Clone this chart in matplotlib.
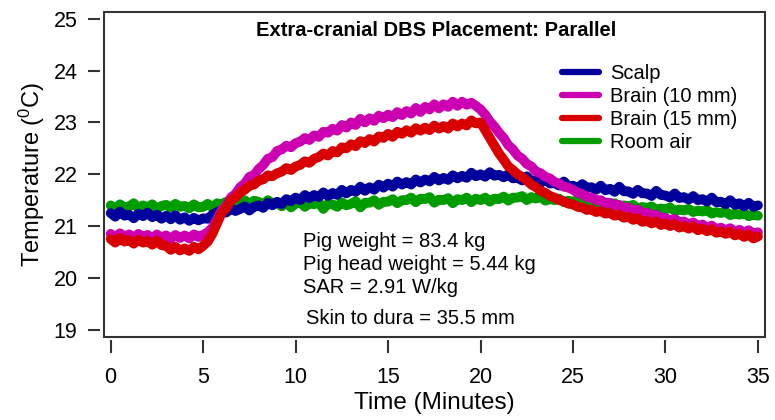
import numpy as np
import matplotlib
matplotlib.use('Agg')
from matplotlib import pyplot as plt
from matplotlib.patches import Rectangle

plt.rcParams['font.family'] = ['Liberation Sans', 'DejaVu Sans']
plt.rcParams['mathtext.fontset'] = 'custom'
plt.rcParams['mathtext.rm'] = 'Liberation Sans'

# time grid, one reading every 0.25 minutes
minutes = np.linspace(0, 35, 141)

scalp = [
    21.25, 21.18, 21.28, 21.2, 21.22, 21.15, 21.24, 21.19,
    21.26, 21.17, 21.22, 21.14, 21.2, 21.13, 21.21, 21.12,
    21.17, 21.1, 21.16, 21.11, 21.15, 21.14, 21.22, 21.27,
    21.3, 21.26, 21.34, 21.29, 21.33, 21.38, 21.3, 21.37,
    21.4, 21.35, 21.45, 21.4, 21.47, 21.42, 21.52, 21.48,
    21.55, 21.5, 21.6, 21.54, 21.6, 21.56, 21.65, 21.58,
    21.64, 21.6, 21.7, 21.63, 21.7, 21.66, 21.76, 21.68,
    21.75, 21.7, 21.8, 21.74, 21.82, 21.76, 21.86, 21.8,
    21.85, 21.8, 21.9, 21.84, 21.9, 21.86, 21.95, 21.88,
    21.93, 21.89, 21.98, 21.92, 21.97, 21.93, 22.03, 21.96,
    22.0, 21.95, 22.04, 21.97, 21.99, 21.94, 22.0, 21.92,
    21.93, 21.88, 21.96, 21.86, 21.88, 21.83, 21.9, 21.82,
    21.83, 21.78, 21.86, 21.77, 21.78, 21.73, 21.81, 21.74,
    21.75, 21.7, 21.78, 21.69, 21.72, 21.66, 21.76, 21.67,
    21.67, 21.62, 21.7, 21.63, 21.63, 21.58, 21.68, 21.6,
    21.59, 21.55, 21.63, 21.54, 21.56, 21.51, 21.58, 21.5,
    21.52, 21.47, 21.55, 21.46, 21.47, 21.42, 21.5, 21.41,
    21.44, 21.38, 21.45, 21.37, 21.4,
]

brain_10mm = [
    20.85, 20.78, 20.86, 20.8, 20.84, 20.77, 20.85, 20.79,
    20.83, 20.76, 20.84, 20.78, 20.82, 20.75, 20.83, 20.77,
    20.82, 20.76, 20.84, 20.79, 20.83, 20.88, 20.97, 21.12,
    21.3, 21.4, 21.55, 21.62, 21.75, 21.82, 21.95, 21.98,
    22.1, 22.18, 22.3, 22.33, 22.45, 22.48, 22.55, 22.52,
    22.6, 22.63, 22.7, 22.66, 22.75, 22.72, 22.82, 22.8,
    22.88, 22.84, 22.95, 22.9, 23.0, 22.95, 23.07, 23.0,
    23.08, 23.03, 23.13, 23.08, 23.15, 23.1, 23.2, 23.14,
    23.22, 23.17, 23.28, 23.2, 23.3, 23.25, 23.35, 23.27,
    23.35, 23.3, 23.4, 23.32, 23.4, 23.34, 23.38, 23.32,
    23.25, 23.15, 23.02, 22.92, 22.8, 22.7, 22.56, 22.48,
    22.36, 22.3, 22.2, 22.15, 22.05, 22.02, 21.95, 21.92,
    21.85, 21.82, 21.76, 21.74, 21.7, 21.64, 21.62, 21.56,
    21.55, 21.5, 21.5, 21.44, 21.45, 21.4, 21.41, 21.35,
    21.36, 21.3, 21.32, 21.25, 21.26, 21.2, 21.22, 21.15,
    21.16, 21.1, 21.14, 21.07, 21.09, 21.03, 21.07, 21.0,
    21.03, 20.97, 21.01, 20.94, 20.97, 20.92, 20.96, 20.89,
    20.93, 20.87, 20.92, 20.85, 20.88,
]

brain_15mm = [
    20.75, 20.68, 20.77, 20.7, 20.73, 20.66, 20.74, 20.68,
    20.71, 20.64, 20.72, 20.63, 20.62, 20.54, 20.6, 20.53,
    20.57, 20.52, 20.6, 20.55, 20.62, 20.7, 20.85, 21.05,
    21.25, 21.35, 21.5, 21.55, 21.65, 21.7, 21.78, 21.8,
    21.88, 21.9, 21.98, 21.96, 22.02, 22.05, 22.12, 22.08,
    22.15, 22.18, 22.25, 22.22, 22.3, 22.33, 22.4, 22.36,
    22.45, 22.42, 22.52, 22.5, 22.58, 22.54, 22.64, 22.6,
    22.68, 22.63, 22.73, 22.7, 22.78, 22.72, 22.82, 22.78,
    22.85, 22.8, 22.89, 22.84, 22.9, 22.85, 22.94, 22.88,
    22.93, 22.88, 22.98, 22.92, 22.98, 22.94, 23.04, 22.98,
    23.0, 22.85, 22.7, 22.55, 22.4, 22.28, 22.15, 22.08,
    22.0, 21.95, 21.88, 21.8, 21.75, 21.68, 21.64, 21.58,
    21.55, 21.5, 21.48, 21.43, 21.42, 21.37, 21.36, 21.31,
    21.32, 21.27, 21.29, 21.24, 21.25, 21.2, 21.22, 21.16,
    21.18, 21.12, 21.15, 21.08, 21.1, 21.05, 21.09, 21.02,
    21.05, 21.0, 21.04, 20.97, 21.0, 20.95, 20.99, 20.92,
    20.95, 20.9, 20.94, 20.87, 20.9, 20.85, 20.89, 20.82,
    20.85, 20.79, 20.84, 20.76, 20.8,
]

room_air = [
    21.4, 21.33, 21.42, 21.36, 21.38, 21.44, 21.34, 21.4,
    21.36, 21.42, 21.33, 21.39, 21.41, 21.35, 21.43, 21.37,
    21.39, 21.34, 21.42, 21.36, 21.37, 21.43, 21.36, 21.44,
    21.42, 21.47, 21.39, 21.46, 21.45, 21.5, 21.42, 21.49,
    21.47, 21.41, 21.5, 21.44, 21.45, 21.38, 21.47, 21.36,
    21.43, 21.47, 21.37, 21.44, 21.42, 21.46, 21.33, 21.43,
    21.42, 21.37, 21.46, 21.4, 21.43, 21.48, 21.36, 21.45,
    21.45, 21.5, 21.41, 21.47, 21.47, 21.52, 21.44, 21.5,
    21.5, 21.55, 21.46, 21.53, 21.52, 21.56, 21.45, 21.51,
    21.5, 21.54, 21.44, 21.52, 21.5, 21.55, 21.46, 21.53,
    21.5, 21.55, 21.47, 21.53, 21.52, 21.57, 21.49, 21.55,
    21.55, 21.58, 21.5, 21.56, 21.53, 21.57, 21.49, 21.52,
    21.5, 21.53, 21.46, 21.49, 21.47, 21.5, 21.43, 21.46,
    21.44, 21.47, 21.4, 21.43, 21.41, 21.44, 21.37, 21.4,
    21.38, 21.41, 21.34, 21.37, 21.35, 21.38, 21.31, 21.34,
    21.32, 21.36, 21.29, 21.32, 21.3, 21.33, 21.27, 21.3,
    21.28, 21.31, 21.24, 21.27, 21.25, 21.28, 21.21, 21.24,
    21.22, 21.25, 21.19, 21.22, 21.2,
]

series_names = ['Scalp', 'Brain (10 mm)', 'Brain (15 mm)', 'Room air']
series_colors = ['#00009c', '#cc00b0', '#d80000', '#009c00']
x_ticks = [0, 5, 10, 15, 20, 25, 30, 35]
y_ticks = [19, 20, 21, 22, 23, 24, 25]
notes = ['Pig weight = 83.4 kg', 'Pig head weight = 5.44 kg',
         'SAR = 2.91 W/kg', 'Skin to dura = 35.5 mm']

W, H = 775, 420
fig = plt.figure(figsize=(W / 100, H / 100), dpi=100)
ax = fig.add_axes([104 / W, 1 - 337 / H, (765 - 104) / W, (337 - 12) / H])

data = [scalp, brain_10mm, brain_15mm, room_air]
order = [3, 0, 1, 2]  # green at back, red on top
handles = {}
for i in order:
    ln, = ax.plot(minutes, data[i], color=series_colors[i], lw=7.0,
                  solid_joinstyle='round', solid_capstyle='round',
                  label=series_names[i])
    handles[i] = ln

ax.set_xlim(-0.36, 35.38)
ax.set_ylim(18.86, 25.13)
ax.set_xticks(x_ticks)
ax.set_yticks(y_ticks)

# igor style: ticks detached from the frame
for s in ax.spines.values():
    s.set_visible(False)
ax.spines['left'].set_position(('outward', 3))
ax.spines['bottom'].set_position(('outward', 2.5))
ax.add_patch(Rectangle((0, 0), 1, 1, transform=ax.transAxes, fill=False,
                       edgecolor='#333333', lw=1.5, clip_on=False, zorder=5))
ax.tick_params(direction='out', length=9, width=1.5, color='#333333',
               labelsize=15.5)
ax.tick_params(axis='y', pad=7)
ax.tick_params(axis='x', pad=10)

ax.set_xlabel('Time (Minutes)', fontsize=17.5, labelpad=3)
ax.set_ylabel(r'Temperature ($\mathregular{^0}$C)', fontsize=17, labelpad=5)

fig.text(436 / W, 1 - 30 / H, 'Extra-cranial DBS Placement: Parallel',
         ha='center', va='center', fontsize=14.5, fontweight='bold')

leg = ax.legend([handles[i] for i in range(4)], series_names,
                loc='upper left', bbox_to_anchor=(562 / W, 1 - 64 / H),
                bbox_transform=fig.transFigure, frameon=False, fontsize=14.5,
                handlelength=1.85, handletextpad=0.55, labelspacing=0.2,
                borderpad=0, borderaxespad=0)
for ln in leg.get_lines():
    ln.set_linewidth(4.5)

note_pos = [(303, 247), (303, 270), (303, 293), (306, 324)]
for (px, py), txt in zip(note_pos, notes):
    fig.text(px / W, 1 - py / H, txt, ha='left', va='baseline', fontsize=14.5)

fig.savefig('out.png', dpi=100)
